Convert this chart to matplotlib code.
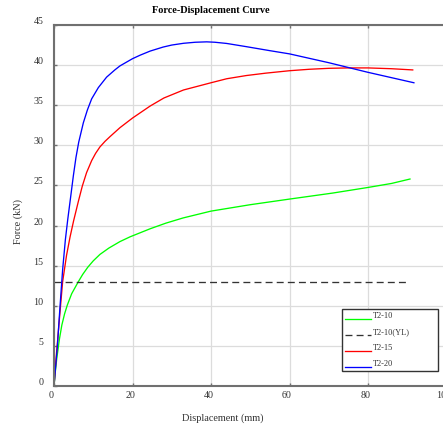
import numpy as np
import matplotlib
matplotlib.use("Agg")
import matplotlib.pyplot as plt
from matplotlib.transforms import ScaledTranslation

plt.rcParams['font.family'] = ['Liberation Serif', 'DejaVu Serif']
plt.rcParams['lines.scale_dashes'] = False

# ---- data ----
disp_t2_10 = [0, 0.3, 0.7, 1.4, 2.0, 2.7, 3.4, 4.5, 6.2, 7.3, 8.6, 10.0, 11.7, 14.0, 16.8, 19.4,
              24.5, 28.5, 32.9, 40, 50, 60, 71, 80, 86, 90.7]
force_t2_10 = [0, 1.6, 3.4, 5.9, 7.6, 9.0, 10.1, 11.5, 13.0, 13.9, 14.8, 15.6, 16.4, 17.2, 18.0, 18.6,
               19.6, 20.3, 20.95, 21.8, 22.6, 23.3, 24.05, 24.75, 25.25, 25.8]

disp_yl = [0, 90]
force_yl = [13, 13]

disp_t2_15 = [0, 0.5, 1.36, 2.2, 3.2, 4.1, 5.0, 6.2, 7.2, 8.3, 9.6, 10.6, 11.7, 13.0, 14.3, 16.8, 20,
              24.5, 28, 33, 40, 44, 49, 54, 60, 65, 70, 75, 80, 86, 91.4]
force_t2_15 = [0, 3.25, 8.25, 13.0, 16.3, 18.6, 20.6, 23.0, 24.9, 26.6, 28.1, 29.0, 29.8, 30.5, 31.1, 32.2,
               33.4, 34.9, 35.9, 36.9, 37.8, 38.3, 38.7, 39.0, 39.3, 39.48, 39.6, 39.65, 39.65, 39.55, 39.4]

disp_t2_20 = [0, 0.85, 1.53, 2.2, 2.9, 3.5, 4.25, 4.93, 5.6, 6.3, 7.47, 8.5, 9.6, 11.3, 13.4, 15.5,
              16.8, 20, 22, 24.5, 27.8, 30, 33, 36, 38.9, 41, 44, 46.5, 49, 55, 60, 70, 80, 91.7]
force_t2_20 = [0, 4.9, 9.9, 14.5, 18.25, 20.75, 23.6, 26.2, 28.5, 30.4, 32.8, 34.4, 35.8, 37.2, 38.5, 39.4,
               39.9, 40.8, 41.25, 41.75, 42.25, 42.5, 42.72, 42.85, 42.9, 42.85, 42.7, 42.5, 42.3, 41.8,
               41.4, 40.3, 39.1, 37.8]

labels = ['T2-10', 'T2-10(YL)', 'T2-15', 'T2-20']
xticks = [0, 20, 40, 60, 80, 100]
yticks = [0, 5, 10, 15, 20, 25, 30, 35, 40, 45]

W, H = 443, 426
fig = plt.figure(figsize=(W / 100, H / 100), dpi=100)
ax = fig.add_axes([54 / W, 40 / H, (446.5 - 54) / W, (386 - 25) / H])

lw = 0.95
ax.plot(disp_t2_10, force_t2_10, color='#00ff00', lw=lw, label=labels[0])
ax.plot(disp_yl, force_yl, color='#333333', lw=lw, linestyle=(0, (5.0, 3.0)), label=labels[1])
ax.plot(disp_t2_15, force_t2_15, color='#ff0000', lw=lw, label=labels[2])
ax.plot(disp_t2_20, force_t2_20, color='#0000ff', lw=lw, label=labels[3])

ax.set_xlim(0, 100)
ax.set_ylim(0, 45)
ax.set_xticks(xticks)
ax.set_yticks(yticks)
ax.grid(True, color='#dcdcdc', lw=0.9)
ax.set_axisbelow(True)

spine_c = '#707070'
for s in ax.spines.values():
    s.set_color(spine_c)
    s.set_linewidth(1.5)
ax.tick_params(direction='in', top=True, right=True, length=2.5, width=1,
               color=spine_c, labelsize=7.2, labelcolor='#333333')
ax.tick_params(axis='y', pad=7.5)
ax.tick_params(axis='x', pad=3.5)

for lab in ax.get_yticklabels():
    lab.set_transform(lab.get_transform() + ScaledTranslation(0, 0.045, fig.dpi_scale_trans))
for lab in ax.get_xticklabels():
    lab.set_transform(lab.get_transform() + ScaledTranslation(-0.025, 0, fig.dpi_scale_trans))

fig.text(210.5 / W, 1 - 10.7 / H, 'Force-Displacement Curve', ha='center', va='center',
         fontsize=7.4, fontweight='bold', color='black')
fig.text(222.5 / W, 1 - 418 / H, 'Displacement (mm)', ha='center', va='center',
         fontsize=7.4, color='#333333')
fig.text(18.3 / W, 1 - 221 / H, 'Force (kN)', ha='center', va='center', rotation=90,
         fontsize=7.4, color='#333333')

# legend box in figure pixels: x 342-438, y 309-378
bx0, bx1 = 342.3 / W, 437.7 / W
by0, by1 = 1 - 378.3 / H, 1 - 309.3 / H
leg = fig.legend(loc='upper left', bbox_to_anchor=(bx0, by0, bx1 - bx0, by1 - by0),
                 bbox_transform=fig.transFigure, mode='expand', fontsize=6,
                 frameon=True, fancybox=False, framealpha=1, edgecolor='#333333',
                 handlelength=3.1, handletextpad=0.2, borderpad=0.35, labelspacing=0.95,
                 borderaxespad=0)
leg.get_frame().set_linewidth(1.0)
for t in leg.get_texts():
    t.set_color('#333333')
for ln in leg.get_lines():
    ln.set_ydata(np.asarray(ln.get_ydata()) - 3.0)

fig.savefig('out.png', dpi=100)
